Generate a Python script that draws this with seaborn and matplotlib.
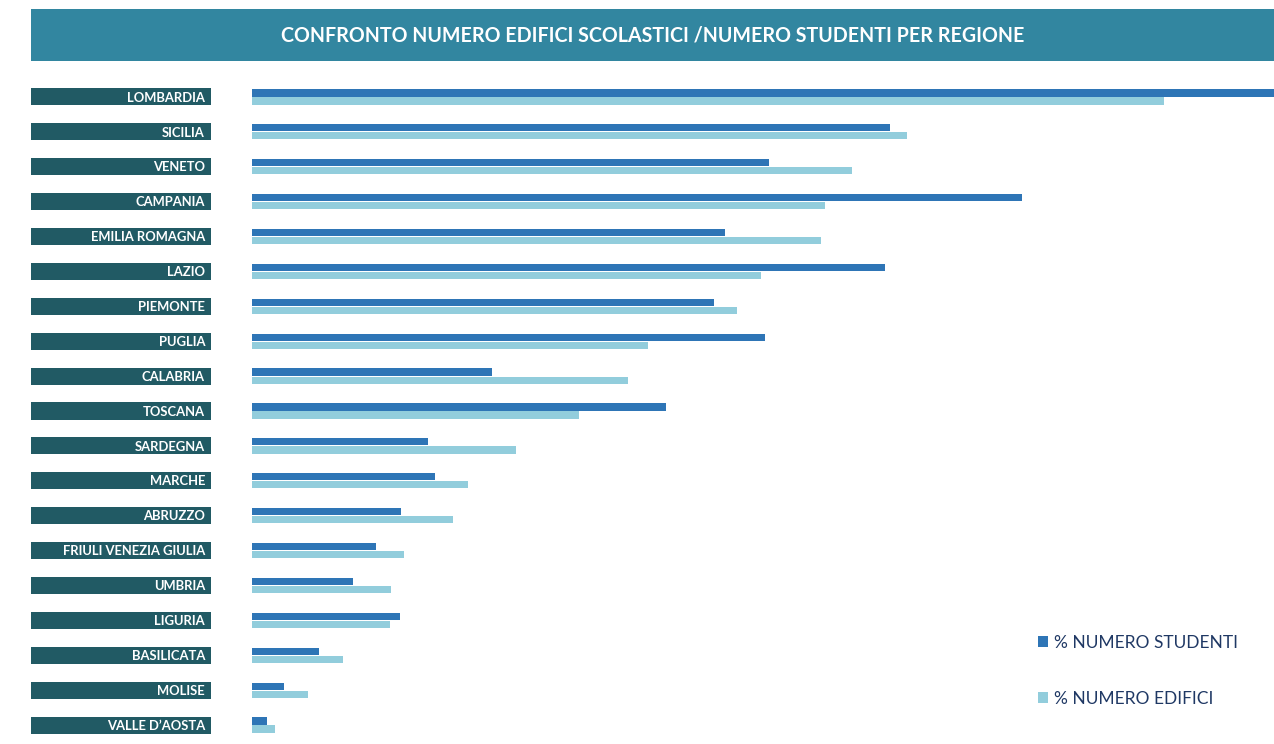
import pandas as pd
import matplotlib.pyplot as plt
import matplotlib.transforms as mtransforms
from matplotlib.patches import Rectangle, Patch
import seaborn as sns

# regioni in ordine di visualizzazione
REGIONI = ['LOMBARDIA', 'SICILIA', 'VENETO', 'CAMPANIA', 'EMILIA ROMAGNA', 'LAZIO',
           'PIEMONTE', 'PUGLIA', 'CALABRIA', 'TOSCANA', 'SARDEGNA', 'MARCHE',
           'ABRUZZO', 'FRIULI VENEZIA GIULIA', 'UMBRIA', 'LIGURIA', 'BASILICATA',
           'MOLISE', 'VALLE D\u2019AOSTA']

# % numero studenti (stimati dal grafico)
STUDENTI = [15.3, 9.52, 7.72, 11.49, 7.06, 9.45, 6.90, 7.66, 3.58, 6.18,
            2.63, 2.73, 2.22, 1.85, 1.51, 2.21, 1.00, 0.48, 0.22]
# % numero edifici
EDIFICI = [13.61, 9.78, 8.96, 8.55, 8.49, 7.60, 7.24, 5.91, 5.61, 4.88,
           3.94, 3.22, 3.00, 2.27, 2.07, 2.06, 1.36, 0.84, 0.34]

SERIE = ['% NUMERO STUDENTI', '% NUMERO EDIFICI']
COLORI = ['#2E75B6', '#92CDDC']
TITOLO = 'CONFRONTO NUMERO EDIFICI SCOLASTICI /NUMERO STUDENTI PER REGIONE'

sns.set_style('white')
plt.rcParams['font.family'] = ['Lato', 'DejaVu Sans']

df = pd.DataFrame({
    'Regione': REGIONI * 2,
    'Valore': STUDENTI + EDIFICI,
    'Serie': [SERIE[0]] * len(REGIONI) + [SERIE[1]] * len(REGIONI),
})

W, H = 1274, 744
fig = plt.figure(figsize=(W / 100, H / 100), dpi=100)
ax = fig.add_axes([252 / W, 1 - 742.5 / H, (W - 252) / W, (742.5 - 79.5) / H])

sns.barplot(data=df, y='Regione', x='Valore', hue='Serie', orient='h',
            order=REGIONI, hue_order=SERIE, palette=COLORI, saturation=1,
            width=0.46, gap=0.1, linewidth=0, ax=ax, legend=False, errorbar=None)

ax.set_xlim(0, 15.25)
ax.set_ylim(len(REGIONI) - 0.5, -0.5)
for s in ax.spines.values():
    s.set_visible(False)
ax.set_xticks([])
ax.set_yticks([])
ax.set_xlabel('')
ax.set_ylabel('')

# etichette regione nei riquadri scuri
trans = mtransforms.blended_transform_factory(fig.transFigure, ax.transData)
for i, reg in enumerate(REGIONI):
    ax.add_patch(Rectangle((31 / W, i - 0.245), 180 / W, 0.49, transform=trans,
                           facecolor='#215A64', edgecolor='none', clip_on=False))
    ax.text(205 / W, i + 0.02, reg, transform=trans, ha='right', va='center',
            color='white', fontsize=9.4, fontweight='bold', clip_on=False)

# banda del titolo
fig.patches.append(Rectangle((31 / W, 1 - 61 / H), (W - 31) / W, 52 / H,
                             transform=fig.transFigure, facecolor='#3286A0',
                             edgecolor='none'))
fig.text((31 + W) / 2 / W, 1 - 35.5 / H, TITOLO, ha='center', va='center',
         color='white', fontsize=14.1, fontweight='bold')

# legenda
handles = [Patch(facecolor=c, edgecolor='none') for c in COLORI]
fig.legend(handles, SERIE, loc='upper left', bbox_to_anchor=(1022 / W, 1 - 619 / H),
           frameon=False, handlelength=0.6, handleheight=0.6, handletextpad=0.35,
           labelspacing=2.3, fontsize=12.5, labelcolor='#1F3864')

fig.savefig('out.png', dpi=100)
